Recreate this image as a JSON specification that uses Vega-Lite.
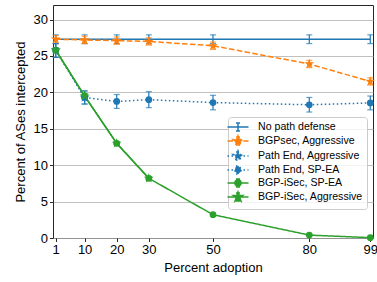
{
  "$schema": "https://vega.github.io/schema/vega-lite/v6.json",
  "width": 320,
  "height": 233,
  "autosize": {"type": "none"},
  "padding": {"left": 53, "top": 5, "right": 4, "bottom": 44},
  "background": "white",
  "config": {
    "font": "Liberation Sans",
    "view": {"stroke": "#262626", "strokeWidth": 1},
    "axis": {
      "labelFont": "Liberation Sans",
      "titleFont": "Liberation Sans",
      "labelFontSize": 13,
      "titleFontSize": 13,
      "titleFontWeight": "normal",
      "labelColor": "#000",
      "titleColor": "#000",
      "tickColor": "#262626",
      "tickSize": 3.5,
      "domain": false,
      "gridColor": "#b0b0b0",
      "gridWidth": 0.8
    }
  },
  "data": {
    "values": [
      {"series": "No path defense", "x": 1, "y": 27.3, "lo": 26.7, "hi": 27.9},
      {"series": "No path defense", "x": 10, "y": 27.3, "lo": 26.7, "hi": 27.9},
      {"series": "No path defense", "x": 20, "y": 27.3, "lo": 26.7, "hi": 27.9},
      {"series": "No path defense", "x": 30, "y": 27.3, "lo": 26.7, "hi": 27.9},
      {"series": "No path defense", "x": 50, "y": 27.3, "lo": 26.7, "hi": 27.9},
      {"series": "No path defense", "x": 80, "y": 27.3, "lo": 26.7, "hi": 27.9},
      {"series": "No path defense", "x": 99, "y": 27.3, "lo": 26.7, "hi": 27.9},
      {"series": "BGPsec, Aggressive", "x": 1, "y": 27.3, "lo": 26.8, "hi": 27.8},
      {"series": "BGPsec, Aggressive", "x": 10, "y": 27.2, "lo": 26.7, "hi": 27.7},
      {"series": "BGPsec, Aggressive", "x": 20, "y": 27.1, "lo": 26.6, "hi": 27.6},
      {"series": "BGPsec, Aggressive", "x": 30, "y": 27.0, "lo": 26.5, "hi": 27.5},
      {"series": "BGPsec, Aggressive", "x": 50, "y": 26.4, "lo": 25.9, "hi": 26.9},
      {"series": "BGPsec, Aggressive", "x": 80, "y": 23.9, "lo": 23.4, "hi": 24.4},
      {"series": "BGPsec, Aggressive", "x": 99, "y": 21.5, "lo": 21.0, "hi": 22.0},
      {"series": "Path End, Aggressive", "x": 1, "y": 25.8, "lo": 24.8, "hi": 26.7},
      {"series": "Path End, Aggressive", "x": 10, "y": 19.3, "lo": 18.4, "hi": 20.2},
      {"series": "Path End, SP-EA", "x": 1, "y": 25.8, "lo": 24.8, "hi": 26.7},
      {"series": "Path End, SP-EA", "x": 10, "y": 19.3, "lo": 18.4, "hi": 20.2},
      {"series": "Path End, SP-EA", "x": 20, "y": 18.75, "lo": 17.8, "hi": 19.7},
      {"series": "Path End, SP-EA", "x": 30, "y": 19.0, "lo": 17.9, "hi": 20.1},
      {"series": "Path End, SP-EA", "x": 50, "y": 18.6, "lo": 17.6, "hi": 19.6},
      {"series": "Path End, SP-EA", "x": 80, "y": 18.3, "lo": 17.3, "hi": 19.3},
      {"series": "Path End, SP-EA", "x": 99, "y": 18.55, "lo": 17.6, "hi": 19.5},
      {"series": "BGP-iSec, SP-EA", "x": 1, "y": 25.8, "lo": 25.5, "hi": 26.1},
      {"series": "BGP-iSec, SP-EA", "x": 10, "y": 19.5, "lo": 19.2, "hi": 19.8},
      {"series": "BGP-iSec, SP-EA", "x": 20, "y": 13.0, "lo": 12.8, "hi": 13.2},
      {"series": "BGP-iSec, SP-EA", "x": 30, "y": 8.2, "lo": 8.0, "hi": 8.4},
      {"series": "BGP-iSec, SP-EA", "x": 50, "y": 3.2, "lo": 3.05, "hi": 3.35},
      {"series": "BGP-iSec, SP-EA", "x": 80, "y": 0.4, "lo": 0.3, "hi": 0.5},
      {"series": "BGP-iSec, SP-EA", "x": 99, "y": 0.05, "lo": 0.0, "hi": 0.1},
      {"series": "BGP-iSec, Aggressive", "x": 1, "y": 25.8, "lo": 25.5, "hi": 26.1},
      {"series": "BGP-iSec, Aggressive", "x": 10, "y": 19.5, "lo": 19.2, "hi": 19.8},
      {"series": "BGP-iSec, Aggressive", "x": 20, "y": 13.0, "lo": 12.8, "hi": 13.2},
      {"series": "BGP-iSec, Aggressive", "x": 30, "y": 8.2, "lo": 8.0, "hi": 8.4}
    ]
  },
  "encoding": {
    "x": {
      "field": "x", "type": "quantitative",
      "scale": {"domain": [0.15, 99.85], "nice": false, "zero": false},
      "axis": {"values": [1, 10, 20, 30, 50, 80, 99], "title": "Percent adoption", "grid": false, "labelPadding": 2, "titlePadding": 5}
    },
    "y": {
      "field": "y", "type": "quantitative",
      "scale": {"domain": [0, 32], "nice": false},
      "axis": {"values": [0, 5, 10, 15, 20, 25, 30], "title": "Percent of ASes intercepted", "grid": true, "labelPadding": 2, "titlePadding": 6}
    },
    "color": {
      "field": "series", "type": "nominal",
      "scale": {
        "domain": ["No path defense", "BGPsec, Aggressive", "Path End, Aggressive", "Path End, SP-EA", "BGP-iSec, SP-EA", "BGP-iSec, Aggressive"],
        "range": ["#1f77b4", "#ff7f0e", "#1f77b4", "#1f77b4", "#2ca02c", "#2ca02c"]
      },
      "legend": {
        "title": null,
        "orient": "none",
        "legendX": 175,
        "legendY": 112,
        "padding": 4,
        "fillColor": "rgba(255,255,255,0.8)",
        "strokeColor": "#cccccc",
        "cornerRadius": 3,
        "labelFont": "Liberation Sans",
        "labelFontSize": 10.6,
        "labelColor": "#000",
        "symbolSize": 100,
        "symbolStrokeWidth": 1.5,
        "symbolOpacity": 1,
        "labelOffset": 14,
        "rowPadding": -1,
        "encode": {
          "symbols": {
            "update": {
              "shape": {"signal": "datum.value === 'No path defense' ? 'M-2.1,0H2.1M0,-0.8V0.8M-0.4,-0.8H0.4M-0.4,0.8H0.4' : (datum.value === 'Path End, SP-EA' || datum.value === 'BGP-iSec, SP-EA') ? 'M-2.1,0H2.1M0,-0.8V0.8M-0.4,-0.8H0.4M-0.4,0.8H0.4M0.63,0A0.63,0.63,0,1,1,-0.63,0A0.63,0.63,0,1,1,0.63,0Z' : 'M-2.1,0H2.1M0,-0.8V0.8M-0.4,-0.8H0.4M-0.4,0.8H0.4M0,-1L0.225,-0.309L0.951,-0.309L0.363,0.118L0.588,0.809L0,0.382L-0.588,0.809L-0.363,0.118L-0.951,-0.309L-0.225,-0.309Z'"},
              "fill": {"scale": "color", "field": "value"},
              "stroke": {"scale": "color", "field": "value"},
              "strokeWidth": {"value": 1.5},
              "opacity": {"value": 1}
            }
          }
        }
      }
    }
  },
  "layer": [
    {
      "mark": {"type": "rule", "strokeWidth": 1.2},
      "encoding": {"y": {"field": "lo", "type": "quantitative"}, "y2": {"field": "hi"}}
    },
    {
      "mark": {"type": "tick", "orient": "horizontal", "size": 6, "thickness": 1.2},
      "encoding": {"y": {"field": "lo", "type": "quantitative"}}
    },
    {
      "mark": {"type": "tick", "orient": "horizontal", "size": 6, "thickness": 1.2},
      "encoding": {"y": {"field": "hi", "type": "quantitative"}}
    },
    {
      "mark": {"type": "line", "strokeWidth": 1.5},
      "encoding": {
        "strokeDash": {
          "field": "series", "type": "nominal",
          "scale": {
            "domain": ["No path defense", "BGPsec, Aggressive", "Path End, Aggressive", "Path End, SP-EA", "BGP-iSec, SP-EA", "BGP-iSec, Aggressive"],
            "range": [[1, 0], [5.5, 2.4], [1.5, 2.5], [1.5, 2.5], [1, 0], [1, 0]]
          }
        }
      }
    },
    {
      "transform": [{"filter": "datum.series === 'BGP-iSec, SP-EA' || datum.series === 'Path End, SP-EA'"}],
      "mark": {"type": "point", "shape": "circle", "filled": true, "size": 45, "opacity": 1}
    },
    {
      "transform": [{"filter": "datum.series === 'BGPsec, Aggressive' || datum.series === 'BGP-iSec, Aggressive' || datum.series === 'Path End, Aggressive'"}],
      "mark": {"type": "point", "shape": "M0,-1L0.225,-0.309L0.951,-0.309L0.363,0.118L0.588,0.809L0,0.382L-0.588,0.809L-0.363,0.118L-0.951,-0.309L-0.225,-0.309Z", "filled": true, "size": 110, "opacity": 1}
    }
  ]
}
